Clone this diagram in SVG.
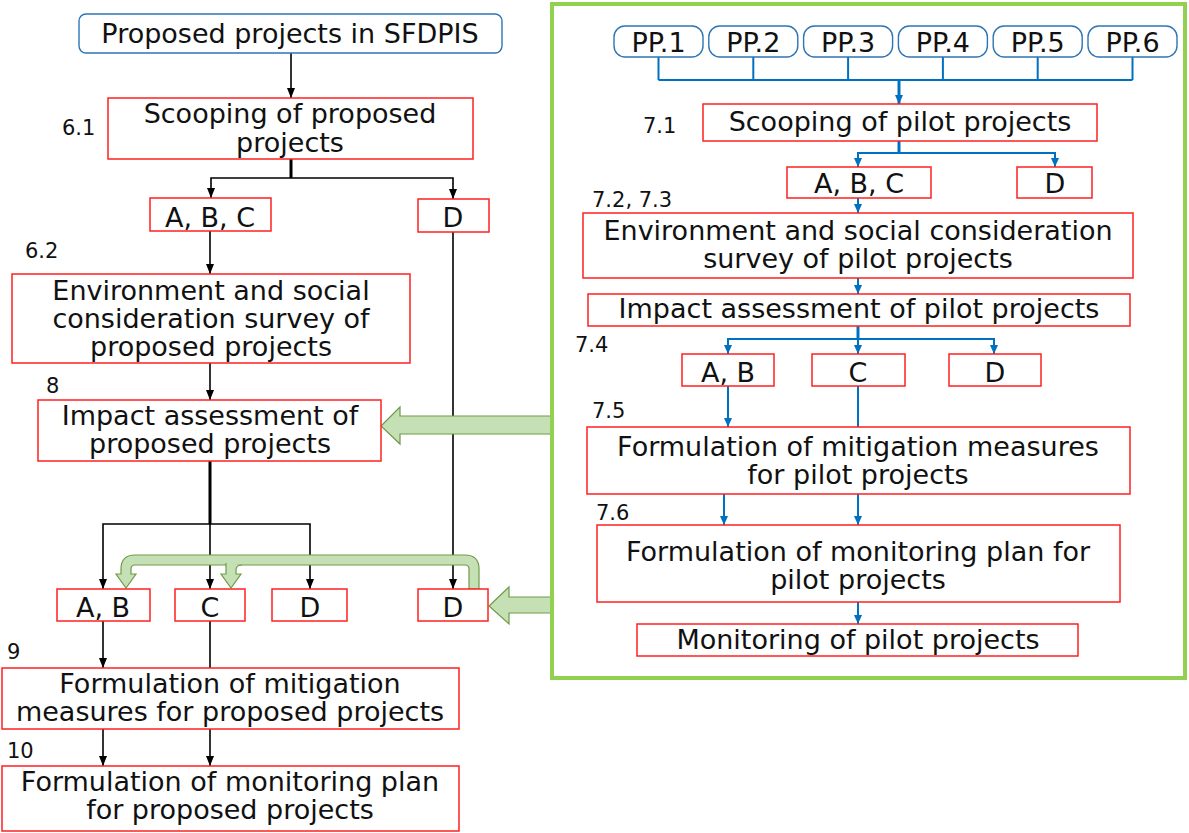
<svg xmlns="http://www.w3.org/2000/svg" width="1189" height="833" viewBox="0 0 1189 833">
  <style>
    .box { fill: #ffffff; stroke: #ff2020; stroke-width: 1.5; }
    .pp { fill: #ffffff; stroke: #2e75b6; stroke-width: 1.4; }
    .t { font-family: "DejaVu Sans", Verdana, sans-serif; font-size: 27px; fill: #111111; text-anchor: middle; }
    .num { font-family: "DejaVu Sans", Verdana, sans-serif; font-size: 21px; fill: #111111; }
    .blk { fill: none; stroke: #000000; stroke-width: 1.6; }
    .blk.trunk { stroke-width: 3; }
    .blu { fill: none; stroke: #0070c0; stroke-width: 2; }
    .blu.trunk { stroke-width: 3; }
    .arrK { marker-end: url(#headK); }
    .arrB { marker-end: url(#headB); }
    .garrow { fill: #c5e0b4; stroke: #6e9b48; stroke-width: 1.2; }
  </style>
  <defs>
    <marker id="headK" viewBox="0 0 10 8" refX="10" refY="4" markerWidth="10" markerHeight="8" markerUnits="userSpaceOnUse" orient="auto">
      <path d="M0,0 L10,4 L0,8 z" fill="#000000"/>
    </marker>
    <marker id="headB" viewBox="0 0 9 8" refX="9" refY="4" markerWidth="9" markerHeight="8" markerUnits="userSpaceOnUse" orient="auto">
      <path d="M0,0 L9,4 L0,8 z" fill="#0070c0"/>
    </marker>
  </defs>

  <rect width="1189" height="833" fill="#ffffff"/>

  <!-- pilot project panel -->
  <rect id="pilot-panel" x="552" y="4" width="633" height="674" fill="none" stroke="#92d050" stroke-width="4"/>

  <!-- step numbers -->
  <g id="step-numbers">
    <text class="num" x="62" y="135">6.1</text>
    <text class="num" x="25" y="258">6.2</text>
    <text class="num" x="46" y="393">8</text>
    <text class="num" x="7" y="659">9</text>
    <text class="num" x="7" y="758">10</text>
    <text class="num" x="643" y="133">7.1</text>
    <text class="num" x="592" y="207">7.2, 7.3</text>
    <text class="num" x="575" y="352">7.4</text>
    <text class="num" x="592" y="418">7.5</text>
    <text class="num" x="596" y="520">7.6</text>
  </g>

  <!-- connectors -->
  <g id="connectors">
    <!-- proposed projects flow -->
    <path class="blk arrK" d="M291 53 V98"/>
    <path class="blk trunk" d="M291 159 V178"/>
    <path class="blk arrK" d="M291 178 H211 V198"/>
    <path class="blk arrK" d="M291 178 H453 V199"/>
    <path class="blk arrK" d="M210 231 V274"/>
    <path class="blk arrK" d="M210 363 V400"/>
    <path class="blk trunk" d="M210 461 V524"/>
    <path class="blk arrK" d="M210 524 H103 V589"/>
    <path class="blk arrK" d="M210 524 H310 V589"/>
    <path class="blk arrK" d="M210 524 V589"/>
    <path class="blk arrK" d="M453 232 V589"/>
    <path class="blk arrK" d="M103 621 V668"/>
    <path class="blk" d="M210 621 V668"/>
    <path class="blk arrK" d="M103 729 V766"/>
    <path class="blk arrK" d="M210 729 V766"/>

    <!-- pilot projects flow -->
    <path class="blu" d="M658.5 57 V80 M753.3 57 V80 M848.1 57 V80 M942.9 57 V80 M1037.7 57 V80 M1132.5 57 V80 M658.5 80 H1132.5"/>
    <path class="blu trunk arrB" d="M899 80 V104"/>
    <path class="blu trunk" d="M899 141 V153"/>
    <path class="blu arrB" d="M899 153 H858 V167"/>
    <path class="blu arrB" d="M899 153 H1055 V167"/>
    <path class="blu arrB" d="M858 198 V213"/>
    <path class="blu arrB" d="M858 278 V294"/>
    <path class="blu trunk" d="M858 326 V339"/>
    <path class="blu arrB" d="M858 339 H728 V354"/>
    <path class="blu arrB" d="M858 339 H994 V354"/>
    <path class="blu arrB" d="M858 339 V354"/>
    <path class="blu arrB" d="M728 386 V427"/>
    <path class="blu" d="M858 386 V427"/>
    <path class="blu arrB" d="M724 494 V525"/>
    <path class="blu arrB" d="M858 494 V525"/>
    <path class="blu arrB" d="M858 602 V624"/>

    <!-- feedback from pilot results -->
    <path class="garrow" d="M550 416 H400 V407 L381 426 L400 444 V434 H550"/>
    <path class="garrow" d="M550 597 H509 V587 L489 606 L509 624 V613 H550"/>
    <path class="garrow" d="M479 589 V569 Q479 555 465 555 H135 Q121 555 121 569 V574 H116 L126 588 L136 574 H131 V569 Q131 565 135 565 H465 Q469 565 469 569 V589 Z"/>
    <path class="garrow" d="M226 563 V574 H221 L231 588 L241 574 H236 V570 Q236 565 242 565"/>
  </g>

  <!-- proposed project nodes -->
  <g id="n-proposed">
    <rect class="pp" x="79" y="14" width="423" height="39" rx="7"/>
    <text class="t" x="290" y="43">Proposed projects in SFDPIS</text>
  </g>
  <g id="n-scoping">
    <rect class="box" x="108" y="98" width="365" height="61"/>
    <text class="t" x="290" y="123">Scooping of proposed</text>
    <text class="t" x="290" y="152">projects</text>
  </g>
  <g id="n-abc">
    <rect class="box" x="150" y="198" width="121" height="33"/>
    <text class="t" x="210" y="227">A, B, C</text>
  </g>
  <g id="n-d1">
    <rect class="box" x="418" y="199" width="71" height="33"/>
    <text class="t" x="453" y="227">D</text>
  </g>
  <g id="n-survey">
    <rect class="box" x="12" y="274" width="398" height="89"/>
    <text class="t" x="211" y="300">Environment and social</text>
    <text class="t" x="211" y="328">consideration survey of</text>
    <text class="t" x="211" y="356">proposed projects</text>
  </g>
  <g id="n-impact">
    <rect class="box" x="38" y="400" width="343" height="61"/>
    <text class="t" x="210" y="425">Impact assessment of</text>
    <text class="t" x="210" y="453">proposed projects</text>
  </g>
  <g id="n-ab">
    <rect class="box" x="57" y="589" width="93" height="32"/>
    <text class="t" x="103" y="617">A, B</text>
  </g>
  <g id="n-c">
    <rect class="box" x="175" y="589" width="70" height="32"/>
    <text class="t" x="210" y="617">C</text>
  </g>
  <g id="n-d2">
    <rect class="box" x="272" y="589" width="75" height="32"/>
    <text class="t" x="310" y="617">D</text>
  </g>
  <g id="n-d3">
    <rect class="box" x="418" y="589" width="70" height="32"/>
    <text class="t" x="453" y="617">D</text>
  </g>
  <g id="n-mitigation">
    <rect class="box" x="2" y="668" width="457" height="61"/>
    <text class="t" x="230" y="693">Formulation of mitigation</text>
    <text class="t" x="230" y="721">measures for proposed projects</text>
  </g>
  <g id="n-monitoring-plan">
    <rect class="box" x="2" y="766" width="457" height="65"/>
    <text class="t" x="230" y="791">Formulation of monitoring plan</text>
    <text class="t" x="230" y="819">for proposed projects</text>
  </g>

  <!-- pilot project nodes -->
  <g id="n-pp1"><rect class="pp" x="614" y="26" width="89" height="31" rx="11"/><text class="t" x="658.5" y="52">PP.1</text></g>
  <g id="n-pp2"><rect class="pp" x="708.8" y="26" width="89" height="31" rx="11"/><text class="t" x="753.3" y="52">PP.2</text></g>
  <g id="n-pp3"><rect class="pp" x="803.6" y="26" width="89" height="31" rx="11"/><text class="t" x="848.1" y="52">PP.3</text></g>
  <g id="n-pp4"><rect class="pp" x="898.4" y="26" width="89" height="31" rx="11"/><text class="t" x="942.9" y="52">PP.4</text></g>
  <g id="n-pp5"><rect class="pp" x="993.2" y="26" width="89" height="31" rx="11"/><text class="t" x="1037.7" y="52">PP.5</text></g>
  <g id="n-pp6"><rect class="pp" x="1088" y="26" width="89" height="31" rx="11"/><text class="t" x="1132.5" y="52">PP.6</text></g>

  <g id="p-scoping">
    <rect class="box" x="703" y="104" width="394" height="37"/>
    <text class="t" x="900" y="131">Scooping of pilot projects</text>
  </g>
  <g id="p-abc">
    <rect class="box" x="787" y="167" width="144" height="31"/>
    <text class="t" x="859" y="193">A, B, C</text>
  </g>
  <g id="p-d1">
    <rect class="box" x="1017" y="167" width="75" height="31"/>
    <text class="t" x="1055" y="193">D</text>
  </g>
  <g id="p-survey">
    <rect class="box" x="583" y="213" width="550" height="65"/>
    <text class="t" x="858" y="240">Environment and social consideration</text>
    <text class="t" x="858" y="268">survey of pilot projects</text>
  </g>
  <g id="p-impact">
    <rect class="box" x="588" y="294" width="542" height="32"/>
    <text class="t" x="859" y="318">Impact assessment of pilot projects</text>
  </g>
  <g id="p-ab">
    <rect class="box" x="682" y="354" width="92" height="32"/>
    <text class="t" x="728" y="382">A, B</text>
  </g>
  <g id="p-c">
    <rect class="box" x="812" y="354" width="93" height="32"/>
    <text class="t" x="858" y="382">C</text>
  </g>
  <g id="p-d2">
    <rect class="box" x="949" y="354" width="92" height="32"/>
    <text class="t" x="995" y="382">D</text>
  </g>
  <g id="p-mitigation">
    <rect class="box" x="587" y="427" width="543" height="67"/>
    <text class="t" x="858" y="456">Formulation of mitigation measures</text>
    <text class="t" x="858" y="484">for pilot projects</text>
  </g>
  <g id="p-monitoring-plan">
    <rect class="box" x="597" y="525" width="523" height="77"/>
    <text class="t" x="858" y="561">Formulation of monitoring plan for</text>
    <text class="t" x="858" y="589">pilot projects</text>
  </g>
  <g id="p-monitoring">
    <rect class="box" x="637" y="624" width="441" height="32"/>
    <text class="t" x="858" y="649">Monitoring of pilot projects</text>
  </g>
</svg>
